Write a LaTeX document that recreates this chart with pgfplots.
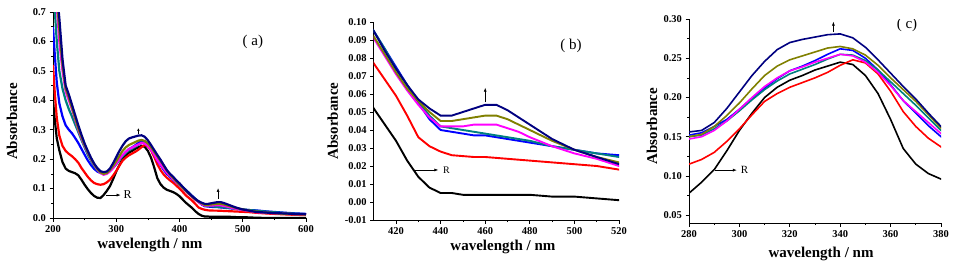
\documentclass[border=0pt]{standalone}
\usepackage{pgfplots}
\pgfplotsset{compat=1.18}
\usepackage{pgfplotstable}
\usepackage{fontspec}
\setmainfont{Liberation Serif}
\usetikzlibrary{arrows.meta}

\definecolor{cBlack}{RGB}{0,0,0}
\definecolor{cRed}{RGB}{255,0,0}
\definecolor{cBlue}{RGB}{0,0,255}
\definecolor{cCyan}{RGB}{0,128,128}
\definecolor{cMag}{RGB}{255,0,255}
\definecolor{cOlive}{RGB}{128,128,0}
\definecolor{cNavy}{RGB}{0,0,128}

\pgfplotstableread{
lambda black red blue cyan magenta olive navy
200 0.400 0.520 0.650 0.750 0.780 0.800 0.820
203 0.330 0.420 0.550 0.700 0.750 0.780 0.800
206 0.270 0.340 0.460 0.600 0.720 0.750 0.770
210 0.230 0.280 0.390 0.500 0.600 0.640 0.680
215 0.190 0.245 0.345 0.440 0.500 0.520 0.540
220 0.168 0.228 0.315 0.400 0.430 0.440 0.450
225 0.160 0.218 0.300 0.370 0.400 0.410 0.420
230 0.156 0.210 0.288 0.345 0.370 0.375 0.385
235 0.152 0.200 0.272 0.318 0.335 0.340 0.350
240 0.145 0.188 0.255 0.292 0.300 0.305 0.315
245 0.130 0.170 0.235 0.265 0.272 0.276 0.283
250 0.113 0.155 0.215 0.240 0.245 0.248 0.253
255 0.098 0.140 0.196 0.215 0.222 0.224 0.228
260 0.085 0.128 0.180 0.195 0.200 0.202 0.205
265 0.075 0.119 0.167 0.177 0.181 0.183 0.185
270 0.069 0.115 0.158 0.163 0.165 0.167 0.170
275 0.068 0.113 0.153 0.154 0.153 0.155 0.159
280 0.078 0.115 0.152 0.150 0.147 0.150 0.156
285 0.092 0.121 0.155 0.152 0.150 0.153 0.158
290 0.108 0.130 0.163 0.160 0.158 0.163 0.168
295 0.132 0.144 0.172 0.170 0.170 0.177 0.186
300 0.158 0.160 0.185 0.183 0.185 0.193 0.207
305 0.180 0.178 0.199 0.197 0.200 0.211 0.228
310 0.200 0.195 0.212 0.210 0.214 0.228 0.246
315 0.213 0.205 0.224 0.221 0.225 0.240 0.261
320 0.222 0.213 0.234 0.230 0.234 0.248 0.270
325 0.228 0.219 0.240 0.236 0.239 0.253 0.274
330 0.235 0.225 0.247 0.242 0.245 0.258 0.277
335 0.240 0.232 0.255 0.249 0.250 0.263 0.280
340 0.245 0.241 0.262 0.255 0.255 0.265 0.281
345 0.242 0.248 0.260 0.254 0.253 0.262 0.276
350 0.228 0.244 0.250 0.247 0.245 0.254 0.264
355 0.205 0.230 0.235 0.235 0.232 0.241 0.248
360 0.172 0.208 0.216 0.220 0.215 0.225 0.231
365 0.135 0.182 0.196 0.205 0.196 0.210 0.214
370 0.115 0.163 0.180 0.190 0.182 0.195 0.198
375 0.103 0.148 0.164 0.174 0.168 0.178 0.180
380 0.096 0.137 0.150 0.158 0.154 0.161 0.163
385 0.092 0.128 0.140 0.146 0.143 0.148 0.150
390 0.088 0.120 0.130 0.135 0.132 0.136 0.140
395 0.082 0.110 0.121 0.124 0.122 0.124 0.128
400 0.074 0.100 0.112 0.114 0.113 0.114 0.118
405 0.063 0.089 0.104 0.105 0.101 0.102 0.106
410 0.052 0.077 0.095 0.095 0.091 0.092 0.095
415 0.043 0.068 0.085 0.085 0.081 0.082 0.084
420 0.034 0.059 0.075 0.074 0.071 0.072 0.074
425 0.023 0.048 0.065 0.065 0.062 0.063 0.065
430 0.014 0.036 0.055 0.056 0.054 0.056 0.057
435 0.008 0.031 0.046 0.048 0.047 0.050 0.052
440 0.005 0.028 0.040 0.042 0.042 0.045 0.048
445 0.005 0.026 0.039 0.041 0.042 0.045 0.048
450 0.004 0.0255 0.038 0.040 0.042 0.046 0.050
455 0.004 0.025 0.037 0.039 0.043 0.047 0.052
460 0.004 0.025 0.037 0.038 0.043 0.048 0.054
465 0.004 0.0245 0.036 0.037 0.043 0.048 0.054
470 0.004 0.024 0.035 0.036 0.041 0.046 0.051
475 0.004 0.0235 0.034 0.035 0.039 0.043 0.047
480 0.004 0.023 0.033 0.034 0.036 0.040 0.043
490 0.003 0.022 0.031 0.031 0.031 0.034 0.035
500 0.003 0.021 0.029 0.029 0.027 0.029 0.029
510 0.002 0.020 0.027 0.027 0.024 0.025 0.025
520 0.001 0.018 0.026 0.025 0.020 0.022 0.021
540 0.000 0.015 0.022 0.021 0.017 0.018 0.018
560 0.000 0.013 0.019 0.018 0.015 0.015 0.016
580 0.000 0.011 0.016 0.015 0.013 0.013 0.014
600 0.000 0.010 0.014 0.013 0.012 0.012 0.013
}\spectra

\pgfplotsset{
  spec/.style={
    scale only axis,
    axis x line*=bottom, axis y line*=left,
    tick align=outside,
    major tick length=3.5pt, minor tick length=2pt,
    every tick/.style={black, line width=0.7pt},
    axis line style={line width=0.9pt},
    ticklabel style={font=\bfseries\fontsize{10.5}{12}\selectfont},
    /pgf/number format/assume math mode=true,
    label style={font=\bfseries\fontsize{15}{17}\selectfont},
    xlabel={wavelength / nm}, ylabel={Absorbance},
    minor x tick num=1, minor y tick num=1,
    clip=true,
  },
}
\newcommand{\allcurves}[1]{%
  \addplot[cBlack, line width=#1] table[x=lambda, y=black]{\spectra};
  \addplot[cRed, line width=#1] table[x=lambda, y=red]{\spectra};
  \addplot[cBlue, line width=#1] table[x=lambda, y=blue]{\spectra};
  \addplot[cCyan, line width=#1] table[x=lambda, y=cyan]{\spectra};
  \addplot[cMag, line width=#1] table[x=lambda, y=magenta]{\spectra};
  \addplot[cOlive, line width=#1] table[x=lambda, y=olive]{\spectra};
  \addplot[cNavy, line width=#1] table[x=lambda, y=navy]{\spectra};
}

\begin{document}
\begin{tikzpicture}
\useasboundingbox (0pt,0pt) rectangle (957pt,269pt);

% (a)
\begin{axis}[spec, at={(53pt,51pt)}, anchor=south west, width=253pt, height=206pt,
  xmin=200, xmax=600, ymin=0, ymax=0.7,
  xtick={200,300,...,600}, ytick={0,0.1,...,0.7},
  yticklabel style={/pgf/number format/.cd, fixed, fixed zerofill, precision=1},
  xlabel style={at={(axis description cs:0.383,-0.131)}, anchor=center},
  ylabel style={at={(axis description cs:-0.162,0.468)}, anchor=center},
]
\allcurves{2.2pt}
\draw[-{Latex[length=3pt,width=2.5pt]}, line width=0.5pt] (axis cs:335,0.285) -- (axis cs:335,0.306);
\draw[-{Latex[length=4pt,width=3pt]}, line width=0.6pt] (axis cs:461,0.066) -- (axis cs:461,0.102);
\draw[-{Latex[length=4pt,width=3pt]}, line width=0.6pt] (axis cs:284,0.078) -- (axis cs:307,0.078);
\node[font=\fontsize{12}{12}\selectfont] at (axis cs:318,0.078) {R};
\node[font=\fontsize{15}{15}\selectfont] at (axis cs:516,0.598) {( a)};
\end{axis}

% (b)
\begin{axis}[spec, at={(373.7pt,49pt)}, anchor=south west, width=245.3pt, height=198pt,
  xmin=410, xmax=520, ymin=-0.01, ymax=0.10,
  xtick={420,440,...,520}, ytick={-0.01,0,0.01,...,0.10},
  yticklabel style={/pgf/number format/.cd, fixed, fixed zerofill, precision=2},
  xlabel style={at={(axis description cs:0.527,-0.136)}, anchor=center},
  ylabel style={at={(axis description cs:-0.167,0.5)}, anchor=center},
]
\allcurves{1.9pt}
\draw[-{Latex[length=4pt,width=3pt]}, line width=0.6pt] (axis cs:460,0.0555) -- (axis cs:460,0.0635);
\draw[-{Latex[length=4pt,width=3pt]}, line width=0.6pt] (axis cs:428,0.0178) -- (axis cs:439,0.0178);
\node[font=\fontsize{10}{10}\selectfont] at (axis cs:442.6,0.0178) {R};
\node[font=\fontsize{15}{15}\selectfont] at (axis cs:498.5,0.087) {( b)};
\end{axis}

% (c)
\begin{axis}[spec, at={(689pt,46pt)}, anchor=south west, width=252pt, height=204pt,
  xmin=280, xmax=380, ymin=0.04, ymax=0.30,
  xtick={280,300,...,380}, ytick={0.05,0.10,...,0.30},
  yticklabel style={/pgf/number format/.cd, fixed, fixed zerofill, precision=2},
  xlabel style={at={(axis description cs:0.524,-0.15)}, anchor=center},
  ylabel style={at={(axis description cs:-0.147,0.475)}, anchor=center},
]
\allcurves{1.6pt}
\draw[-{Latex[length=4pt,width=3pt]}, line width=0.6pt] (axis cs:337.3,0.2835) -- (axis cs:337.3,0.2966);
\draw[-{Latex[length=4pt,width=3pt]}, line width=0.6pt] (axis cs:290.3,0.1074) -- (axis cs:299,0.1074);
\node[font=\fontsize{11}{11}\selectfont] at (axis cs:302,0.1074) {R};
\node[font=\fontsize{15}{15}\selectfont] at (axis cs:366.5,0.292) {( c)};
\end{axis}
\end{tikzpicture}
\end{document}
